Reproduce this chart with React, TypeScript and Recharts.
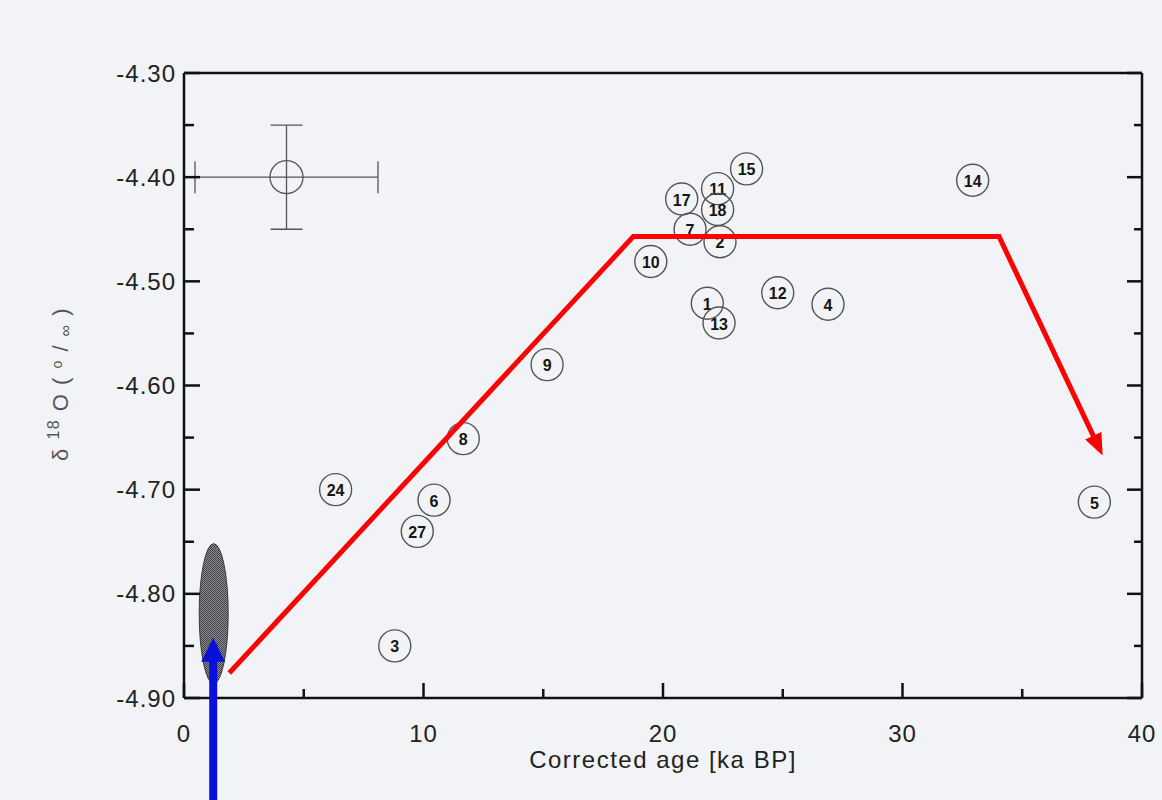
import React from 'react';
import { ScatterChart, Scatter, XAxis, YAxis, ErrorBar, ReferenceLine, ReferenceDot } from 'recharts';

// axis ticks (major every 10 ka / 0.10, minor in between)
const xTicks = [0, 5, 10, 15, 20, 25, 30, 35, 40];
const yTicks = [-4.9, -4.85, -4.8, -4.75, -4.7, -4.65, -4.6, -4.55, -4.5, -4.45, -4.4, -4.35, -4.3];

// numbered samples
const sampleIds = ['15', '14', '11', '17', '18', '7', '2', '10', '12', '4', '1', '13', '9', '8', '24', '6', '27', '3', '5'];
const sampleAges = [23.49, 32.93, 22.28, 20.78, 22.28, 21.13, 22.38, 19.49, 24.79, 26.89, 21.85, 22.34, 15.16, 11.66, 6.33, 10.44, 9.74, 8.8, 38.01];
const sampleD18O = [-4.392, -4.403, -4.411, -4.421, -4.431, -4.45, -4.462, -4.481, -4.511, -4.522, -4.521, -4.54, -4.58, -4.651, -4.7, -4.71, -4.74, -4.85, -4.712];

// typical error cross
const errAge = [4.28];
const errD18O = [-4.4];
const errAgeHalf = [3.82];
const errD18OHalf = [0.05];

// red trend path
const trendAges = [1.89, 18.76, 34.03, 38.25];
const trendD18O = [-4.876, -4.457, -4.457, -4.662];

// present-day value (grey ellipse) and blue arrow
const modernAge = 1.24;
const modernD18O = -4.819;
const arrowAges = [1.22, 1.22];
const arrowD18O = [-5.0, -4.848];

const samples = sampleIds.map((id, i) => ({ id, x: sampleAges[i], y: sampleD18O[i] }));
const errData = errAge.map((x, i) => ({ x, y: errD18O[i], ex: errAgeHalf[i], ey: errD18OHalf[i] }));
const trendData = trendAges.map((x, i) => ({ x, y: trendD18O[i] }));

const font = '"Liberation Sans", Arial, sans-serif';
const frame = { stroke: '#111', strokeWidth: 2.5 };

const isMajorX = (v: number) => Math.round(v) % 10 === 0;
const isMajorY = (v: number) => Math.round(v * 100) % 10 === 0;

const BottomTick = (props: any) => {
  const { x, y, payload } = props;
  const major = isMajorX(payload.value);
  return (
    <g>
      <line x1={x} y1={y} x2={x} y2={y - (major ? 15 : 9)} stroke="#111" strokeWidth={2.5} />
      {major && (
        <text x={x} y={y + 44} textAnchor="middle" fontSize={24} letterSpacing={1} fill="#222" fontFamily={font}>
          {payload.value}
        </text>
      )}
    </g>
  );
};

const TopTick = (props: any) => {
  const { x, y, payload } = props;
  const major = isMajorX(payload.value);
  return <line x1={x} y1={y} x2={x} y2={y + (major ? 15 : 9)} stroke="#111" strokeWidth={2.5} />;
};

const LeftTick = (props: any) => {
  const { x, y, payload } = props;
  const major = isMajorY(payload.value);
  return (
    <g>
      <line x1={x} y1={y} x2={x + (major ? 16 : 10)} y2={y} stroke="#111" strokeWidth={2.5} />
      {major && (
        <text x={x - 8} y={y + 8.5} textAnchor="end" fontSize={24} letterSpacing={1} fill="#222" fontFamily={font}>
          {payload.value.toFixed(2)}
        </text>
      )}
    </g>
  );
};

const RightTick = (props: any) => {
  const { x, y, payload } = props;
  const major = isMajorY(payload.value);
  return <line x1={x} y1={y} x2={x - (major ? 15 : 8)} y2={y} stroke="#111" strokeWidth={2.5} />;
};

const NumberedCircle = (props: any) => {
  const { cx, cy, payload } = props;
  return (
    <g>
      <circle cx={cx} cy={cy} r={16} fill="none" stroke="#555" strokeWidth={1.4} />
      <text x={cx} y={cy + 1} textAnchor="middle" dominantBaseline="central" fontSize={16} fontWeight="bold" fill="#151515" fontFamily={font}>
        {payload.id}
      </text>
    </g>
  );
};

const OpenCircle = (props: any) => (
  <circle cx={props.cx} cy={props.cy} r={16.5} fill="none" stroke="#555" strokeWidth={1.3} />
);

const Ellipse = (props: any) => (
  <ellipse cx={props.cx} cy={props.cy} rx={14.5} ry={70} fill="url(#hatch)" stroke="#3a3a40" strokeWidth={1} />
);

const XTitle = () => (
  <text x={663} y={768} textAnchor="middle" fontSize={24} letterSpacing={1.5} fill="#222" fontFamily={font}>
    Corrected age [ka BP]
  </text>
);

const YTitle = () => (
  <text transform="translate(68,384) rotate(-90)" textAnchor="middle" fontSize={22} letterSpacing={1.5} fill="#555" fontFamily={font}>
    <tspan>δ </tspan>
    <tspan fontSize={16} dy={-9}>18</tspan>
    <tspan dy={9}> O  ( </tspan>
    <tspan fontSize={14} dy={-6}>o</tspan>
    <tspan dy={6}> / </tspan>
    <tspan fontSize={16} dy={3}>∞</tspan>
    <tspan dy={-3}> )</tspan>
  </text>
);

export default function App() {
  return (
    <div style={{ position: 'absolute', left: 0, top: 0, width: 1162, height: 800, background: '#f2f3f6' }}>
      <svg width={0} height={0} style={{ position: 'absolute' }}>
        <defs>
          <pattern id="hatch" width={2} height={2} patternUnits="userSpaceOnUse">
            <rect width={2} height={2} fill="#8e8e94" />
            <rect width={1} height={1} fill="#404046" />
            <rect x={1} y={1} width={1} height={1} fill="#404046" />
          </pattern>
          <marker id="redHead" markerUnits="userSpaceOnUse" markerWidth={22} markerHeight={18} viewBox="0 0 22 18" refX={16} refY={9} orient="auto">
            <path d="M0,0 L22,9 L0,18 Z" fill="#f00" />
          </marker>
          <marker id="blueHead" markerUnits="userSpaceOnUse" markerWidth={24} markerHeight={24} viewBox="0 0 24 24" refX={18} refY={12} orient="auto">
            <path d="M0,0 L24,12 L0,24 Z" fill="#0a10d8" />
          </marker>
        </defs>
      </svg>
      <ScatterChart width={1162} height={800} margin={{ top: 72, right: 19, bottom: 0, left: 0 }}>
        <XAxis
          xAxisId="x"
          type="number"
          dataKey="x"
          domain={[0, 40]}
          ticks={xTicks}
          interval={0}
          allowDataOverflow
          height={102}
          tickSize={0}
          tickMargin={0}
          tickLine={false}
          axisLine={frame}
          tick={BottomTick}
          label={{ content: XTitle }}
        />
        <YAxis
          yAxisId="y"
          type="number"
          dataKey="y"
          domain={[-4.9, -4.3]}
          ticks={yTicks}
          interval={0}
          allowDataOverflow
          width={184}
          tickSize={0}
          tickMargin={0}
          tickLine={false}
          axisLine={frame}
          tick={LeftTick}
          label={{ content: YTitle }}
        />
        <XAxis xAxisId="top" type="number" orientation="top" domain={[0, 40]} ticks={xTicks} interval={0} allowDataOverflow height={1} tickSize={0} tickMargin={0} tickLine={false} axisLine={frame} tick={TopTick} />
        <YAxis yAxisId="right" type="number" orientation="right" domain={[-4.9, -4.3]} ticks={yTicks} interval={0} allowDataOverflow width={1} tickSize={0} tickMargin={0} tickLine={false} axisLine={frame} tick={RightTick} />

        <ReferenceDot xAxisId="x" yAxisId="y" x={modernAge} y={modernD18O} r={0} shape={Ellipse} {...({ zIndex: 50 } as any)} />
        <ReferenceLine
          xAxisId="x"
          yAxisId="y"
          segment={arrowAges.map((x, i) => ({ x, y: arrowD18O[i] }))}
          ifOverflow="visible"
          stroke="#0a10d8"
          strokeWidth={8}
          markerEnd="url(#blueHead)"
          {...({ zIndex: 2000 } as any)}
        />
        <Scatter xAxisId="x" yAxisId="y" data={errData} shape={OpenCircle} isAnimationActive={false}>
          <ErrorBar dataKey="ex" direction="x" width={16} stroke="#555" strokeWidth={1.3} isAnimationActive={false} />
          <ErrorBar dataKey="ey" direction="y" width={16} stroke="#555" strokeWidth={1.3} isAnimationActive={false} />
        </Scatter>
        <Scatter xAxisId="x" yAxisId="y" data={samples} shape={NumberedCircle} isAnimationActive={false} />
        <Scatter
          xAxisId="x"
          yAxisId="y"
          data={trendData}
          shape={() => <g />}
          line={{ stroke: '#f00', strokeWidth: 5, markerEnd: 'url(#redHead)' } as any}
          isAnimationActive={false}
        />
      </ScatterChart>
    </div>
  );
}
